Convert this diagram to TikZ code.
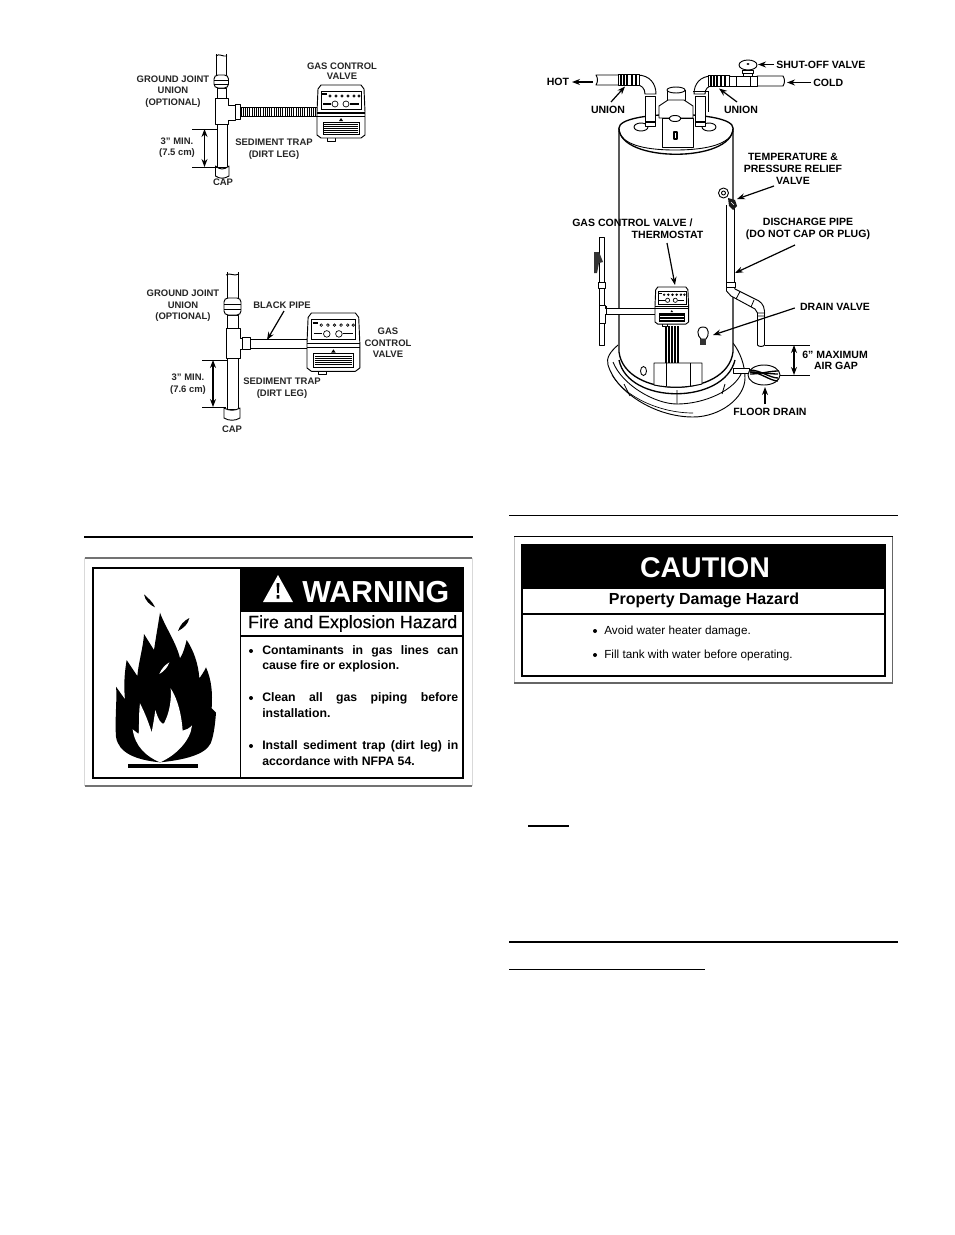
\documentclass[tikz,border=0pt]{standalone}
\usepackage{fontspec}
\setsansfont{Liberation Sans}
\newfontfamily\medf[FakeBold=0.35]{Liberation Sans}
\renewcommand{\familydefault}{\sfdefault}
\usetikzlibrary{arrows.meta}
\newcommand\fsz[1]{\fontsize{#1}{#1}\selectfont}
\newlength\pxu \setlength\pxu{0.75pt}
\tikzset{
 pipe/.style={draw=black,fill=white,line width=0.7pt,line join=round},
 thin line/.style={draw=black,line width=0.65pt},
 arr/.style={draw=black,line width=0.9pt,-{Stealth[length=6pt,width=4.5pt]}},
 dimarr/.style={draw=black,line width=0.9pt,{Stealth[length=6pt,width=4.5pt]}-{Stealth[length=6pt,width=4.5pt]}},
 lblS/.style={inner sep=0pt,align=center,font=\fsz{7.1}\bfseries\color{black!85}},
 lblL/.style={inner sep=0pt,align=center,font=\fsz{7.9}\bfseries},
 warnline/.style={inner sep=0pt,anchor=west,font=\fsz{9.2}\bfseries},
 rulethick/.style={draw=black,line width=1.5pt},
 rulethin/.style={draw=black,line width=1pt},
 box/.style={draw=black,line width=1.2pt},
}
\newcommand\gcv[3]{%
\begin{scope}[shift={(#1,#2)},scale=#3]
 \draw[pipe] (10,52) rectangle (18,56);
 \draw[pipe] (1,4)--(4,0)--(44,0)--(47,4)--(48,27)--(48,50)--(44,53)--(4,53)--(0,50)--(0,27)--cycle;
 \draw[line width=1pt] (0,28)--(48,28);
 \draw[line width=.5pt] (0,31)--(48,31);
 \draw[line width=.45pt] (4,6) rectangle (44,24);
 \foreach \q in {13,19,25,31,37,42}{\draw[line width=.5pt] (\q,11) circle (1.2);}
 \draw[line width=1.1pt] (5,9)--(10,9);
 \draw[line width=.5pt] (18,19) circle (3) (29,19) circle (3);
 \draw[line width=.8pt] (6,19)--(14,19) (33,19)--(42,19);
 \fill (24,33)--(26,36)--(22,36)--cycle;
 \draw[line width=.45pt] (6,37) rectangle (42,49);
 \foreach \q in {39,41,43,45,47}{\draw[line width=.6pt] (7,\q)--(41,\q);}
\end{scope}}
\begin{document}
\begin{tikzpicture}[x=0.75pt,y=-0.75pt]
\useasboundingbox (0,0) rectangle (954,1235);
\fill[white] (0,0) rectangle (954,1235);

% ---------- top-left detail
\draw[pipe] (216.5,54)--(216.5,80)--(226,80)--(226,54);
\draw[line width=.7pt] (216,56) .. controls (219,53) and (223,57) .. (227,56);
\draw[pipe] (217,88) rectangle (226,100);
\draw[pipe,rounded corners=3] (214,75) rectangle (228.5,88);
\draw[line width=.5pt] (214,80) -- (228.5,80) (214,84)--(228.5,84);
\draw[pipe] (217,122) rectangle (227,167);
\draw[pipe] (215.5,98)--(228,98)--(228,105)--(235,105)--(235,120)--(228,120)--(228,124)--(215.5,124)--cycle;
\draw[pipe] (235,104.5) rectangle (240,119.5);
\draw[line width=.8pt] (240,107.5)--(318,107.5) (240,116.5)--(318,116.5);
\foreach \q in {241,243.2,...,317}{\draw[line width=.55pt] (\q,108)--(\q,116);}
\gcv{317}{85}{1}
\draw[pipe] (215.5,166) .. controls (220,170) and (224,170) .. (229,166) -- (229,176) .. controls (224,179) and (220,179) .. (215.5,176) -- cycle;
\coordinate (d1a) at (204.5,129); \coordinate (d1b) at (204.5,167);
\coordinate (d1al) at (192,129); \coordinate (d1ar) at (217,129);
\coordinate (d1bl) at (192,167); \coordinate (d1br) at (217,167);
\draw[thin line] (d1al)--(d1ar) (d1bl)--(d1br);
\draw[dimarr] (d1a)--(d1b);
\node[lblS] (t1) at (173,91.5) {GROUND JOINT\\[1.5pt]UNION\\[1.5pt](OPTIONAL)};
\node[lblS] (t2) at (342,71) {GAS CONTROL\\VALVE};
\node[lblS] (t3) at (177,147.5) {3" MIN.\\[1.2pt](7.5 cm)};
\node[lblS] (t4) at (274,149) {SEDIMENT TRAP\\[1.5pt](DIRT LEG)};
\begin{scope}
 \clip (190,172) rectangle (260,184.5);
 \node[lblS] (t5) at (223,182) {CAP};
\end{scope}

% ---------- second detail
\draw[pipe] (227,272)--(227,300)--(238,300)--(238,272);
\draw[line width=.7pt] (226,275) .. controls (230,272) and (234,277) .. (239,274);
\draw[pipe] (227,315) rectangle (238,330);
\draw[pipe,rounded corners=3] (224,298) rectangle (241,315);
\draw[line width=.5pt] (224,304)--(241,304) (224,309)--(241,309);
\draw[pipe] (227,358) rectangle (238,409);
\draw[pipe] (226,328)--(240,328)--(240,338)--(243,338)--(243,349)--(240,349)--(240,358)--(226,358)--cycle;
\draw[pipe] (250,339) rectangle (307,348);
\draw[pipe] (242,337) rectangle (250,349.5);
\gcv{307}{313}{1.1}
\draw[pipe] (224,408) .. controls (229,411) and (235,411) .. (240,408) -- (240,418) .. controls (235,421) and (229,421) .. (224,418) -- cycle;
\coordinate (d2a) at (213,360); \coordinate (d2b) at (213,407);
\coordinate (d2al) at (202,360); \coordinate (d2ar) at (227,360);
\coordinate (d2bl) at (202,407); \coordinate (d2br) at (226,407);
\draw[thin line] (d2al)--(d2ar) (d2bl)--(d2br);
\draw[dimarr] (d2a)--(d2b);
\node[lblS] (s1) at (183,306) {GROUND JOINT\\[1.5pt]UNION\\[1.5pt](OPTIONAL)};
\node[lblS] (s2) at (282,305) {BLACK PIPE};
\coordinate (s2tip) at (267,340);
\draw[arr] (284,311)--(s2tip);
\node[lblS] (s3) at (388,343) {GAS\\[1.5pt]CONTROL\\[1.5pt]VALVE};
\node[lblS] (s4) at (188,384) {3" MIN.\\[1.5pt](7.6 cm)};
\node[lblS] (s5) at (282,388) {SEDIMENT TRAP\\[1.5pt](DIRT LEG)};
\begin{scope}
 \clip (200,420) rectangle (270,431.5);
 \node[lblS] (s6) at (232,429) {CAP};
\end{scope}

% ---------- water heater: drain pan
\draw[pipe] (618,345) .. controls (610,352) and (606,358) .. (608,365) .. controls (616,392) and (655,417) .. (693,417) .. controls (720,417) and (745,398) .. (745,378) .. controls (745,365) and (740,352) .. (733,343);
\draw[thin line] (613,362) .. controls (622,385) and (655,404) .. (677,404) .. controls (705,404) and (735,390) .. (742,372);
\draw[line width=.5pt] (612,375) .. controls (625,397) and (660,413) .. (693,413);
% tank
\draw[pipe,line width=1pt] (619,128) -- (619,352) .. controls (625,399) and (727,399) .. (733,352) -- (733,128);
\draw[line width=1pt] (619,360) .. controls (628,405) and (724,405) .. (735,360);
\draw[thin line] (624,384) -- (630,396) (725,384) -- (722,394) (677,390)--(677,404);
\draw[pipe,line width=1pt] (619,128) .. controls (619,110) and (733,110) .. (733,128) .. controls (733,163) and (619,163) .. (619,128) -- cycle;
\draw[thin line] (619,131) .. controls (622,143) and (640,150) .. (675,150) .. controls (710,150) and (730,143) .. (733,131);
% tank top fittings
\draw[pipe] (641,127) ellipse (7 and 4);
\draw[pipe] (709,127) ellipse (7 and 4);
\draw[pipe] (645,96) rectangle (655,126);
\draw[pipe] (695,96) rectangle (705,126);
\draw[line width=1pt] (645,122)--(655,122) (695,122)--(705,122);
\draw[pipe] (596,75)--(637,75) .. controls (650,75) and (656,84) .. (656,94) -- (645,94) .. controls (645,88) and (641,85) .. (637,85) -- (596,85) .. controls (598,82) and (598,78) .. (596,75) -- cycle;
\draw[pipe] (618,74.5) rectangle (639,85.5);
\foreach \q in {621,624,627,632,636}{\draw[line width=1.1pt] (\q,75)--(\q,85);}
\draw[pipe] (705,94) -- (694,94) .. controls (694,84) and (700,76) .. (712,76) -- (730,76) -- (730,86) -- (712,86) .. controls (708,86) and (705,89) .. (705,94) -- cycle;
\draw[pipe] (708,75.5) rectangle (729,86.5);
\foreach \q in {711,714,717,721,725}{\draw[line width=1.1pt] (\q,76)--(\q,86);}
\draw[pipe] (757,76) -- (783,76) .. controls (785,79) and (785,83) .. (783,86) -- (757,86) -- cycle;
\draw[pipe] (729,76) rectangle (757,86);
\draw[line width=.6pt] (736,76)--(736,86) (750,76)--(750,86);
\draw[pipe] (743,73) rectangle (752,76);
\draw[pipe] (742,70) rectangle (753,73);
\draw[pipe] (748,65) ellipse (9 and 5);
\fill (748,64) ellipse (1.6 and 1);
\draw[pipe] (667,90) -- (667,103) -- (685,103) -- (685,90);
\draw[pipe] (676,90) ellipse (9 and 3);
\draw[pipe] (659,106)--(668,100)--(684,100)--(693,106)--(693,118)--(659,118)--cycle;
\draw[line width=.6pt] (693,91)--(708,91) (708,91)--(708,112);
\draw[pipe] (662,118) rectangle (693,147);
\draw[pipe] (675,118.5) ellipse (6 and 3);
\draw[pipe,line width=1pt] (674,132) rectangle (677,139);
% gas line
\draw[pipe] (599,237) rectangle (604,345);
\draw[pipe] (598,282) rectangle (605,288);
\fill[black!80] (594,252)--(599,252)--(603,262)--(599,263)--(597,273)--(594,273)--cycle;
\draw[pipe] (599,305) -- (605,305) -- (605,308) -- (655,308) -- (655,314) -- (605,314) -- (605,323) -- (599,323) -- cycle;
\draw[line width=.6pt] (606,306)--(606,315);
\gcv{655}{287}{0.7}
% burner
\foreach \q in {666,669,672,675,678}{\draw[line width=.8pt] (\q,326)--(\q,364);}
\draw[pipe] (654,363) -- (702,363) -- (702,384) .. controls (685,388) and (670,388) .. (654,385) -- cycle;
\draw[line width=.6pt] (666,363)--(666,386) (690,363)--(690,386);
\draw[thin line] (643.5,371) ellipse (3 and 4.5);
% drain valve
\draw[pipe] (703,327) .. controls (696,327) and (697,336) .. (701,339) -- (706,339) .. controls (709,336) and (710,327) .. (703,327) -- cycle;
\fill[black!80] (700,339) rectangle (706,345);
% discharge + T&P
\draw[pipe] (726.5,205) -- (726.5,285) -- (734.5,285) -- (734.5,205);
\draw[pipe] (726,282.5) rectangle (735,287.5);
\draw[pipe] (726.5,287.5) -- (726.5,291) -- (731,296) -- (755,309) -- (757.5,313) -- (757.5,345) .. controls (759,347) and (763,347) .. (764.5,345) -- (764.5,311) .. controls (764,304) and (760,301) .. (755,299) -- (735,289) -- (734.5,287.5) -- cycle;
\draw[line width=.6pt] (740,291.5)--(736,299) (754,300)--(751,307) (757,313)--(765,313) (757,316)--(765,316);
\draw[pipe] (723.5,193) circle (5);
\draw[pipe] (723.5,193) circle (2);
\fill[black!90] (728,198)--(735,200)--(737,206)--(733,210)--(729,206)--cycle;
\draw[white,line width=.5pt] (731,202)--(734,205);
% floor drain
\draw[pipe] (733,368) rectangle (749,373);
\draw[pipe] (764,375) ellipse (16 and 10);
\foreach \a/\b in {-1/-4,-3/-1,-5/3,-3/6}{\draw[line width=1pt] (750,375+\a) .. controls (760,375+\a) and (770,375+\b) .. (778,375+\b);}
% leaders
\node[lblL] (h1) at (558,82) {HOT};
\coordinate (h1t) at (572,82) ; \coordinate (h1s) at (593,82);
\draw[arr] (h1s)--(h1t);
\node[lblL] (h2) at (608,109.5) {UNION};
\coordinate (h2t) at (625,86.5); \coordinate (h2s) at (611,102); \draw[arr] (h2s) -- (h2t);
\node[lblL] (h3) at (741,110) {UNION};
\coordinate (h3t) at (719,88.5); \coordinate (h3s) at (737,102); \draw[arr] (h3s) -- (h3t);
\node[lblL,anchor=west] (h4) at (776,64.5) {SHUT-OFF VALVE};
\coordinate (h4t) at (758,64.5); \draw[arr] (h4.west) ++(-2,0) -- (h4t);
\node[lblL,anchor=west] (h5) at (813,82.5) {COLD};
\coordinate (h5t) at (787,82.5); \draw[arr] (h5.west) ++(-2,0) -- (h5t);
\node[lblL] (h6) at (793,169) {TEMPERATURE \&\\[1.1pt]PRESSURE RELIEF\\[1.1pt]VALVE};
\coordinate (h6t) at (737,199); \coordinate (h6s) at (774,186); \draw[arr] (h6s) -- (h6t);
\node[lblL,anchor=west] (h7) at (572,223) {GAS CONTROL VALVE /};
\node[lblL] (h8) at (667.5,235) {THERMOSTAT};
\coordinate (h8t) at (675,285); \coordinate (h8s) at (667,243); \draw[arr] (h8s) -- (h8t);
\node[lblL] (h9) at (808,229) {DISCHARGE PIPE\\[1.1pt](DO NOT CAP OR PLUG)};
\coordinate (h9t) at (735,273); \coordinate (h9s) at (795,245); \draw[arr] (h9s) -- (h9t);
\node[lblL] (h10) at (835,307) {DRAIN VALVE};
\coordinate (h10t) at (713,335); \draw[arr] (h10.west) ++(-5,1) -- (h10t);
\coordinate (h11a) at (794,345); \coordinate (h11b) at (794,375);
\coordinate (h11al) at (765,345); \coordinate (h11ar) at (810,345);
\coordinate (h11bl) at (780,375); \coordinate (h11br) at (810,375);
\draw[thin line] (h11al)--(h11ar) (h11bl)--(h11br);
\draw[dimarr] (h11a)--(h11b);
\node[lblL,anchor=west] (h12) at (802,355) {6” MAXIMUM};
\node[lblL] (h13) at (836,366) {AIR GAP};
\node[lblL] (h14) at (770,412) {FLOOR DRAIN};
\coordinate (h14t) at (765,387); \coordinate (h14s) at (765,404); \draw[arr] (h14s)--(h14t);

% ---------- rules
\coordinate (rA) at (84,537); \coordinate (rB) at (473,537);
\draw[rulethick] (rA)--(rB);
\coordinate (rC) at (509,515.5); \coordinate (rD) at (898,515.5);
\draw[rulethin] (rC)--(rD);
\coordinate (rE) at (528,826); \coordinate (rF) at (569,826);
\draw[rulethick] (rE)--(rF);
\coordinate (rG) at (509,942); \coordinate (rH) at (898,942);
\draw[rulethick] (rG)--(rH);
\coordinate (rI) at (509,969.5); \coordinate (rJ) at (705,969.5);
\draw[rulethin] (rI)--(rJ);

% ---------- WARNING label
\draw[black!15,line width=.6pt] (84.5,558) -- (84.5,786) (472,558)--(472,786);
\draw[black!55,line width=.8pt] (84.5,558)--(472,558) (84.5,786)--(472,786);
\fill (240,568) rectangle (463,612);
\draw[box] (93,568) rectangle (463,778);
\draw[box] (240.5,568)--(240.5,778);
\draw[box] (240,636)--(463,636);
\path[fill=white] (263,602)--(278,575)--(293,602)--cycle;
\path[fill=black] (276.5,583) -- (279.5,583) -- (278.8,593) -- (277.2,593) -- cycle (276.6,595) rectangle (279.4,598.5);
\node[inner sep=0pt,anchor=west,text=white,font=\fsz{22.8}\bfseries] (w1) at (302,592) {WARNING};
\node[inner sep=0pt,anchor=west,font=\fsz{13.3}\medf] (w2) at (248,623.5) {Fire and Explosion Hazard};
\foreach \q in {651,698,746}{\fill (251,\q) circle (2);}
\node[warnline] (w3) at (262,651) {\makebox[196\pxu][s]{Contaminants in gas lines can}};
\node[warnline] (w4) at (262,666) {cause fire or explosion.};
\node[warnline] (w5) at (262,698) {\makebox[196\pxu][s]{Clean all gas piping before}};
\node[warnline] (w6) at (262,713) {installation.};
\node[warnline] (w7) at (262,746) {\makebox[196\pxu][s]{Install sediment trap (dirt leg) in}};
\node[warnline] (w8) at (262,761) {accordance with NFPA 54.};
% flame
\begin{scope}[shift={(80,530)},x=0.25pt,y=-0.25pt]
 \fill (240,697) .. controls (170,690) and (115,670) .. (108,620)
  .. controls (104,570) and (112,500) .. (108,470) -- (135,508)
  .. controls (130,460) and (135,420) .. (140,390) -- (172,438)
  .. controls (175,400) and (190,350) .. (192,312) -- (222,360)
  .. controls (228,320) and (235,280) .. (240,248)
  .. controls (255,290) and (290,340) .. (300,385)
  .. controls (310,370) and (315,350) .. (320,330)
  .. controls (340,360) and (355,400) .. (358,445)
  .. controls (365,435) and (372,425) .. (378,412)
  .. controls (395,450) and (398,490) .. (395,535) -- (408,548)
  .. controls (405,590) and (400,620) .. (392,640)
  .. controls (375,675) and (310,690) .. (240,697) -- cycle;
 \fill[white] (240,697) .. controls (200,680) and (165,650) .. (158,598)
  -- (176,612) .. controls (178,580) and (176,550) .. (180,520)
  .. controls (195,550) and (205,575) .. (215,607)
  .. controls (218,590) and (222,570) .. (226,540)
  .. controls (235,570) and (245,585) .. (252,580)
  .. controls (268,550) and (275,510) .. (272,475)
  .. controls (295,510) and (305,560) .. (308,602)
  .. controls (318,600) and (328,595) .. (336,586)
  .. controls (332,630) and (290,675) .. (240,697) -- cycle;
 \fill[white] (238,432) .. controls (245,415) and (255,405) .. (268,397) .. controls (263,412) and (252,424) .. (238,432) -- cycle;
 \fill (192,193) .. controls (205,205) and (218,215) .. (225,232) .. controls (210,225) and (195,212) .. (192,193) -- cycle;
 \fill (328,264) .. controls (312,272) and (300,285) .. (294,303) .. controls (310,295) and (325,282) .. (328,264) -- cycle;
 \fill (144,702) rectangle (355,714);
\end{scope}

% ---------- CAUTION label
\draw[black!25,line width=.6pt] (514.5,537)--(514.5,683);
\draw[black!60,line width=.8pt] (892.5,537)--(892.5,683) (514,683)--(893,683);
\draw[black,line width=.8pt] (514,536.5)--(893,536.5);
\fill (522,545) rectangle (885,589);
\draw[box,line width=1pt] (522,545) rectangle (885,676);
\draw[box] (522,614)--(885,614);
\node[inner sep=0pt,text=white,font=\fsz{21.4}\bfseries] (c1) at (705,568) {CAUTION};
\node[inner sep=0pt,font=\fsz{12}\bfseries] (c2) at (704,600.5) {Property Damage Hazard};
\foreach \q in {631,655}{\fill (595,\q) circle (2);}
\node[inner sep=0pt,anchor=west,font=\fsz{8.8}] (c3) at (604,631.5) {Avoid water heater damage.};
\node[inner sep=0pt,anchor=west,font=\fsz{8.8}] (c4) at (604,655.5) {Fill tank with water before operating.};
\end{tikzpicture}
\end{document}
